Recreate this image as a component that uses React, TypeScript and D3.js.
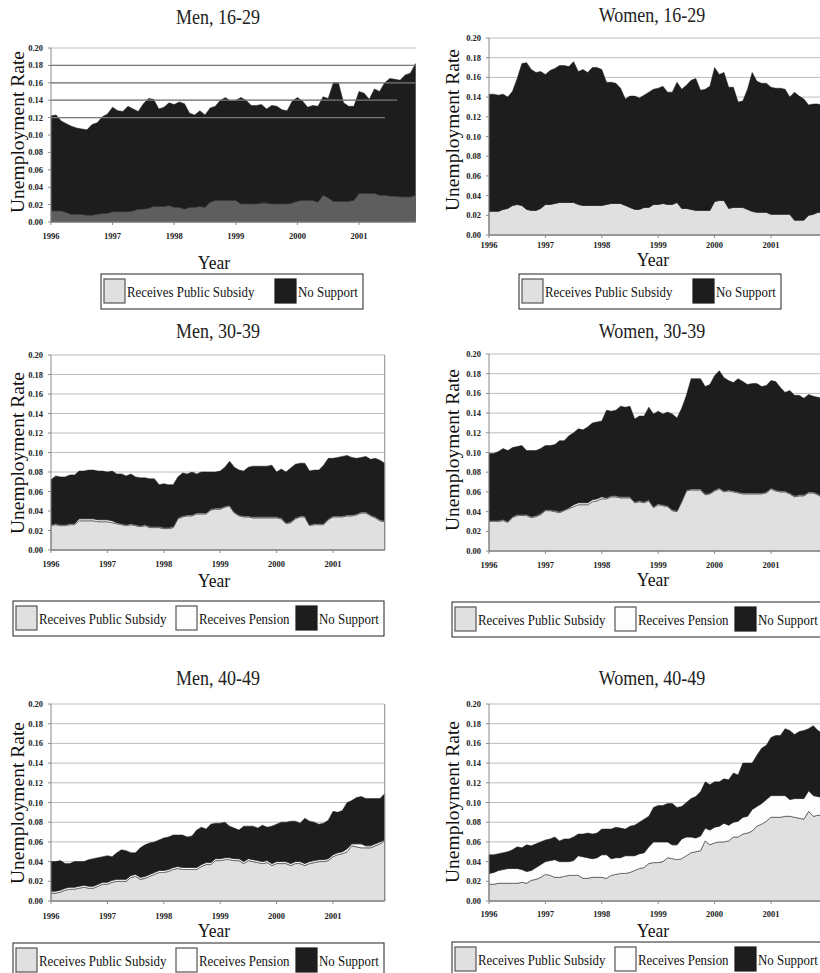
import React from "react";
import * as d3 from "d3";

// monthly observations, Jan 1996 .. Dec 2001
const months = d3.range(72).map((i) => 1996 + i / 12);
const yearTicks = [1996, 1997, 1998, 1999, 2000, 2001];
const rateTicks = [0, 0.02, 0.04, 0.06, 0.08, 0.1, 0.12, 0.14, 0.16, 0.18, 0.2];

const seriesNames = ["Receives Public Subsidy", "Receives Pension", "No Support"];

// Men 16-29
const menYoungSubsidy = [
  0.013, 0.013, 0.013, 0.011, 0.009, 0.009, 0.009, 0.008, 0.008, 0.009, 0.010, 0.010,
  0.012, 0.012, 0.012, 0.012, 0.013, 0.015, 0.015, 0.016, 0.018, 0.018, 0.018, 0.019,
  0.017, 0.017, 0.015, 0.017, 0.017, 0.018, 0.017, 0.023, 0.025, 0.025, 0.025, 0.025,
  0.025, 0.021, 0.021, 0.021, 0.021, 0.022, 0.022, 0.021, 0.021, 0.021, 0.021, 0.022,
  0.024, 0.025, 0.025, 0.025, 0.023, 0.031, 0.028, 0.024, 0.024, 0.024, 0.024, 0.025,
  0.033, 0.033, 0.033, 0.033, 0.031, 0.031, 0.030, 0.030, 0.029, 0.029, 0.029, 0.031,
];
const menYoungTotal = [
  0.122, 0.123, 0.116, 0.113, 0.110, 0.108, 0.107, 0.106, 0.112, 0.114, 0.121, 0.124,
  0.132, 0.128, 0.127, 0.133, 0.130, 0.127, 0.136, 0.142, 0.141, 0.130, 0.132, 0.137,
  0.135, 0.138, 0.136, 0.125, 0.123, 0.128, 0.123, 0.131, 0.133, 0.140, 0.143, 0.139,
  0.140, 0.143, 0.140, 0.134, 0.134, 0.135, 0.130, 0.134, 0.133, 0.129, 0.128, 0.139,
  0.143, 0.139, 0.132, 0.134, 0.133, 0.144, 0.142, 0.160, 0.160, 0.137, 0.133, 0.133,
  0.150, 0.148, 0.141, 0.153, 0.150, 0.160, 0.165, 0.164, 0.163, 0.169, 0.171, 0.182,
];

// Women 16-29
const womenYoungSubsidy = [
  0.024, 0.024, 0.024, 0.026, 0.027, 0.030, 0.031, 0.030, 0.026, 0.025, 0.025, 0.027,
  0.031, 0.031, 0.032, 0.033, 0.033, 0.033, 0.033, 0.031, 0.030, 0.030, 0.030, 0.030,
  0.030, 0.031, 0.032, 0.032, 0.032, 0.030, 0.028, 0.026, 0.026, 0.028, 0.028, 0.031,
  0.031, 0.032, 0.031, 0.031, 0.033, 0.027, 0.027, 0.026, 0.025, 0.025, 0.025, 0.025,
  0.034, 0.035, 0.035, 0.027, 0.028, 0.028, 0.028, 0.026, 0.024, 0.023, 0.023, 0.023,
  0.021, 0.021, 0.021, 0.021, 0.021, 0.015, 0.015, 0.015, 0.020, 0.021, 0.023, 0.023,
];
const womenYoungTotal = [
  0.143, 0.143, 0.142, 0.143, 0.140, 0.146, 0.159, 0.174, 0.175, 0.168, 0.165, 0.166,
  0.163, 0.167, 0.169, 0.172, 0.172, 0.171, 0.176, 0.166, 0.168, 0.165, 0.170, 0.170,
  0.168, 0.155, 0.155, 0.154, 0.149, 0.138, 0.141, 0.141, 0.139, 0.142, 0.145, 0.148,
  0.149, 0.151, 0.145, 0.145, 0.155, 0.148, 0.152, 0.157, 0.159, 0.147, 0.148, 0.151,
  0.170, 0.163, 0.165, 0.150, 0.150, 0.135, 0.136, 0.148, 0.165, 0.156, 0.154, 0.154,
  0.150, 0.149, 0.149, 0.148, 0.140, 0.145, 0.141, 0.138, 0.132, 0.133, 0.133, 0.131,
];

// Men 30-39
const menMidSubsidy = [
  0.025, 0.026, 0.025, 0.025, 0.026, 0.026, 0.030, 0.030, 0.030, 0.030, 0.029, 0.029,
  0.029, 0.028, 0.027, 0.026, 0.025, 0.026, 0.025, 0.024, 0.025, 0.023, 0.023, 0.023,
  0.022, 0.022, 0.023, 0.032, 0.034, 0.035, 0.035, 0.037, 0.037, 0.037, 0.041, 0.042,
  0.042, 0.044, 0.045, 0.038, 0.035, 0.034, 0.034, 0.033, 0.033, 0.033, 0.033, 0.033,
  0.033, 0.032, 0.027, 0.028, 0.032, 0.034, 0.034, 0.025, 0.026, 0.026, 0.026, 0.031,
  0.034, 0.034, 0.034, 0.035, 0.035, 0.036, 0.038, 0.038, 0.035, 0.033, 0.030, 0.029,
];
const menMidPension = [
  0.001, 0.001, 0.001, 0.001, 0.001, 0.001, 0.002, 0.002, 0.002, 0.002, 0.002, 0.002,
  0.002, 0.002, 0.001, 0.001, 0.001, 0.001, 0.001, 0.001, 0.001, 0.001, 0.001, 0.001,
  0.001, 0.001, 0.001, 0.001, 0.001, 0.001, 0.001, 0.001, 0.001, 0.001, 0.001, 0.001,
  0.001, 0.001, 0.001, 0.001, 0.001, 0.001, 0.001, 0.001, 0.001, 0.001, 0.001, 0.001,
  0.001, 0.001, 0.001, 0.001, 0.001, 0.001, 0.001, 0.001, 0.001, 0.001, 0.001, 0.001,
  0.001, 0.001, 0.001, 0.001, 0.001, 0.001, 0.001, 0.001, 0.001, 0.001, 0.001, 0.001,
];
const menMidTotal = [
  0.072, 0.076, 0.075, 0.075, 0.077, 0.077, 0.081, 0.081, 0.082, 0.082, 0.081, 0.081,
  0.080, 0.081, 0.078, 0.078, 0.076, 0.078, 0.075, 0.074, 0.074, 0.073, 0.073, 0.067,
  0.068, 0.067, 0.067, 0.075, 0.079, 0.078, 0.080, 0.078, 0.080, 0.080, 0.080, 0.080,
  0.081, 0.085, 0.091, 0.085, 0.082, 0.081, 0.085, 0.086, 0.086, 0.086, 0.086, 0.087,
  0.080, 0.083, 0.080, 0.084, 0.088, 0.089, 0.089, 0.081, 0.082, 0.082, 0.087, 0.094,
  0.094, 0.095, 0.096, 0.097, 0.095, 0.094, 0.095, 0.096, 0.093, 0.094, 0.092, 0.089,
];

// Women 30-39
const womenMidSubsidy = [
  0.030, 0.030, 0.030, 0.031, 0.029, 0.034, 0.036, 0.036, 0.036, 0.034, 0.035, 0.037,
  0.041, 0.041, 0.040, 0.039, 0.041, 0.043, 0.045, 0.047, 0.047, 0.047, 0.050, 0.051,
  0.053, 0.053, 0.055, 0.055, 0.054, 0.054, 0.054, 0.049, 0.050, 0.049, 0.051, 0.044,
  0.047, 0.046, 0.045, 0.041, 0.040, 0.050, 0.061, 0.062, 0.062, 0.062, 0.057, 0.058,
  0.061, 0.063, 0.060, 0.061, 0.060, 0.059, 0.058, 0.058, 0.058, 0.058, 0.058, 0.059,
  0.063, 0.061, 0.060, 0.060, 0.058, 0.055, 0.056, 0.056, 0.059, 0.059, 0.057, 0.054,
];
const womenMidPension = [
  0.001, 0.001, 0.001, 0.001, 0.001, 0.001, 0.001, 0.001, 0.001, 0.001, 0.001, 0.001,
  0.001, 0.001, 0.001, 0.001, 0.001, 0.001, 0.002, 0.002, 0.002, 0.002, 0.002, 0.002,
  0.002, 0.001, 0.001, 0.001, 0.001, 0.001, 0.001, 0.001, 0.001, 0.001, 0.001, 0.001,
  0.001, 0.001, 0.001, 0.001, 0.001, 0.001, 0.001, 0.001, 0.001, 0.001, 0.001, 0.001,
  0.001, 0.001, 0.001, 0.001, 0.001, 0.001, 0.001, 0.001, 0.001, 0.001, 0.001, 0.001,
  0.001, 0.001, 0.001, 0.001, 0.001, 0.001, 0.001, 0.001, 0.001, 0.001, 0.001, 0.001,
];
const womenMidTotal = [
  0.099, 0.099, 0.101, 0.104, 0.102, 0.105, 0.106, 0.107, 0.102, 0.102, 0.102, 0.104,
  0.107, 0.107, 0.108, 0.112, 0.112, 0.117, 0.120, 0.124, 0.123, 0.126, 0.130, 0.131,
  0.132, 0.143, 0.142, 0.143, 0.147, 0.146, 0.147, 0.134, 0.137, 0.137, 0.146, 0.139,
  0.142, 0.139, 0.141, 0.139, 0.135, 0.145, 0.158, 0.175, 0.175, 0.175, 0.167, 0.169,
  0.178, 0.183, 0.176, 0.173, 0.171, 0.175, 0.172, 0.169, 0.170, 0.170, 0.167, 0.168,
  0.173, 0.172, 0.166, 0.161, 0.163, 0.158, 0.158, 0.155, 0.159, 0.157, 0.156, 0.155,
];

// Men 40-49
const menOldSubsidy = [
  0.008, 0.008, 0.009, 0.011, 0.012, 0.012, 0.013, 0.014, 0.013, 0.013, 0.015, 0.017,
  0.017, 0.019, 0.020, 0.020, 0.020, 0.024, 0.025, 0.022, 0.023, 0.025, 0.027, 0.029,
  0.029, 0.030, 0.032, 0.033, 0.032, 0.032, 0.032, 0.032, 0.035, 0.037, 0.037, 0.041,
  0.041, 0.042, 0.042, 0.041, 0.041, 0.038, 0.041, 0.040, 0.039, 0.038, 0.039, 0.036,
  0.038, 0.038, 0.038, 0.036, 0.038, 0.038, 0.036, 0.038, 0.039, 0.040, 0.040, 0.041,
  0.045, 0.047, 0.048, 0.050, 0.056, 0.055, 0.054, 0.054, 0.054, 0.056, 0.058, 0.061,
];
const menOldPension = [
  0.002, 0.002, 0.002, 0.002, 0.002, 0.002, 0.002, 0.002, 0.002, 0.002, 0.002, 0.002,
  0.002, 0.002, 0.002, 0.002, 0.002, 0.002, 0.002, 0.002, 0.002, 0.002, 0.002, 0.002,
  0.002, 0.002, 0.002, 0.002, 0.002, 0.002, 0.002, 0.002, 0.002, 0.002, 0.002, 0.002,
  0.002, 0.002, 0.002, 0.002, 0.002, 0.002, 0.002, 0.002, 0.002, 0.002, 0.002, 0.002,
  0.002, 0.002, 0.002, 0.002, 0.002, 0.002, 0.002, 0.002, 0.002, 0.002, 0.002, 0.002,
  0.002, 0.002, 0.002, 0.003, 0.002, 0.003, 0.004, 0.002, 0.002, 0.002, 0.002, 0.001,
];
const menOldTotal = [
  0.040, 0.040, 0.041, 0.038, 0.038, 0.040, 0.040, 0.040, 0.042, 0.043, 0.044, 0.045,
  0.046, 0.045, 0.049, 0.052, 0.051, 0.049, 0.049, 0.054, 0.057, 0.059, 0.060, 0.062,
  0.064, 0.065, 0.067, 0.067, 0.067, 0.065, 0.066, 0.072, 0.075, 0.073, 0.078, 0.079,
  0.079, 0.080, 0.076, 0.074, 0.072, 0.076, 0.076, 0.076, 0.074, 0.077, 0.075, 0.076,
  0.078, 0.080, 0.080, 0.081, 0.081, 0.079, 0.084, 0.081, 0.080, 0.078, 0.079, 0.082,
  0.091, 0.090, 0.092, 0.100, 0.102, 0.105, 0.106, 0.104, 0.104, 0.104, 0.104, 0.109,
];

// Women 40-49
const womenOldSubsidy = [
  0.017, 0.017, 0.018, 0.018, 0.018, 0.018, 0.018, 0.019, 0.018, 0.021, 0.022, 0.024,
  0.027, 0.026, 0.024, 0.024, 0.025, 0.026, 0.026, 0.026, 0.023, 0.023, 0.024, 0.024,
  0.024, 0.023, 0.026, 0.027, 0.028, 0.028, 0.029, 0.031, 0.033, 0.034, 0.038, 0.039,
  0.039, 0.040, 0.044, 0.043, 0.042, 0.043, 0.046, 0.049, 0.050, 0.051, 0.061, 0.057,
  0.059, 0.060, 0.060, 0.061, 0.065, 0.065, 0.068, 0.069, 0.071, 0.076, 0.078, 0.081,
  0.085, 0.085, 0.085, 0.086, 0.086, 0.085, 0.084, 0.083, 0.091, 0.086, 0.087, 0.087,
];
const womenOldPension = [
  0.011, 0.012, 0.013, 0.014, 0.015, 0.015, 0.015, 0.013, 0.012, 0.010, 0.012, 0.013,
  0.013, 0.015, 0.018, 0.016, 0.015, 0.014, 0.015, 0.020, 0.022, 0.021, 0.019, 0.020,
  0.023, 0.024, 0.017, 0.017, 0.016, 0.018, 0.017, 0.015, 0.015, 0.015, 0.017, 0.021,
  0.021, 0.020, 0.016, 0.014, 0.015, 0.020, 0.019, 0.016, 0.014, 0.015, 0.013, 0.015,
  0.016, 0.016, 0.019, 0.016, 0.015, 0.016, 0.017, 0.017, 0.022, 0.020, 0.021, 0.022,
  0.022, 0.022, 0.022, 0.021, 0.017, 0.019, 0.020, 0.021, 0.021, 0.021, 0.019, 0.018,
];
const womenOldTotal = [
  0.047, 0.047, 0.048, 0.049, 0.050, 0.052, 0.055, 0.054, 0.057, 0.056, 0.058, 0.060,
  0.062, 0.063, 0.065, 0.061, 0.063, 0.063, 0.065, 0.068, 0.068, 0.069, 0.068, 0.069,
  0.073, 0.073, 0.073, 0.075, 0.074, 0.073, 0.076, 0.077, 0.080, 0.083, 0.086, 0.095,
  0.097, 0.097, 0.099, 0.099, 0.095, 0.096, 0.100, 0.104, 0.106, 0.111, 0.121, 0.118,
  0.121, 0.121, 0.124, 0.123, 0.130, 0.128, 0.140, 0.140, 0.140, 0.148, 0.155, 0.158,
  0.166, 0.168, 0.168, 0.175, 0.173, 0.169, 0.172, 0.173, 0.175, 0.178, 0.173, 0.170,
];

const serif = "'Liberation Serif', 'Times New Roman', serif";
const BLACK = "#1d1d1d";
const LIGHT = "#e0e0e0";

type Layout = {
  x0: number; x2001: number; yTop: number; yBot: number;
  titleX: number; titleY: number; yearsY: number; xTitleX: number; xTitleY: number;
  yLabelX: number; yLabelY: number;
  legend: { x: number; y: number };
  border?: boolean;
};

type PanelProps = {
  title: string;
  subsidy: number[];
  pension?: number[];
  total: number[];
  layout: Layout;
  subsidyFill?: string;
  overlayGrid?: { v: number; end: number }[];
};

function Panel({ title, subsidy, pension, total, layout: L, subsidyFill = LIGHT, overlayGrid }: PanelProps) {
  const x = d3.scaleLinear().domain([1996, 2001]).range([L.x0, L.x2001]);
  const y = d3.scaleLinear().domain([0, 0.2]).range([L.yBot, L.yTop]);
  const xEnd = x(months[months.length - 1]);
  const pen = pension ?? months.map(() => 0);
  const top1 = subsidy;
  const top2 = subsidy.map((v, i) => v + pen[i]);

  const band = (lo: (i: number) => number, hi: (i: number) => number) =>
    d3.area<number>()
      .x((m) => x(m))
      .y0((_, i) => y(lo(i)))
      .y1((_, i) => y(hi(i)))(months) ?? "";

  const subsidyPath = band(() => 0, (i) => top1[i]);
  const pensionPath = band((i) => top1[i], (i) => top2[i]);
  const noSupportPath = band((i) => top2[i], (i) => total[i]);

  const items = pension ? seriesNames : [seriesNames[0], seriesNames[2]];
  const itemOffsets = pension ? [3, 163, 283] : [3, 174];
  const legendW = pension ? 371 : 262;
  const fills: Record<string, string> = {
    "Receives Public Subsidy": LIGHT,
    "Receives Pension": "#fdfdfd",
    "No Support": BLACK,
  };

  return (
    <g>
      <text transform={`translate(${L.titleX},${L.titleY}) scale(0.9,1)`} textAnchor="middle"
        fontFamily={serif} fontSize={20} fill="#222">{title}</text>

      {rateTicks.map((t) => (
        <line key={t} x1={L.x0} x2={xEnd} y1={y(t)} y2={y(t)} stroke="#bdbdbd" strokeWidth={1} />
      ))}

      <path d={subsidyPath} fill={subsidyFill} stroke="#3a3a3a" strokeWidth={0.7} />
      {pension && <path d={pensionPath} fill="#fdfdfd" stroke="#3a3a3a" strokeWidth={0.6} />}
      <path d={noSupportPath} fill={BLACK} stroke={BLACK} strokeWidth={0.5} />

      {overlayGrid && overlayGrid.map((g) => (
        <line key={g.v} x1={L.x0} x2={x(g.end)} y1={y(g.v)} y2={y(g.v)} stroke="#7a7a7a" strokeWidth={1.2} />
      ))}

      {L.border && <line x1={xEnd} x2={xEnd} y1={L.yTop} y2={L.yBot} stroke="#8a8a8a" strokeWidth={1} />}

      <line x1={L.x0} x2={L.x0} y1={L.yTop} y2={L.yBot} stroke="#8a8a8a" strokeWidth={1} />
      <line x1={L.x0} x2={xEnd} y1={L.yBot} y2={L.yBot} stroke="#8a8a8a" strokeWidth={1} />
      {rateTicks.map((t) => (
        <g key={t}>
          <line x1={L.x0 - 3} x2={L.x0} y1={y(t)} y2={y(t)} stroke="#8a8a8a" />
          <text x={L.x0 - 8} y={y(t) + 3} textAnchor="end" fontFamily={serif} fontWeight="bold"
            fontSize={8.5} fill="#222">{t.toFixed(2)}</text>
        </g>
      ))}
      {yearTicks.map((t) => (
        <g key={t}>
          <line x1={x(t)} x2={x(t)} y1={L.yBot} y2={L.yBot + 3} stroke="#8a8a8a" />
          <text x={x(t)} y={L.yearsY} textAnchor="middle" fontFamily={serif} fontWeight="bold"
            fontSize={8.5} fill="#222">{t}</text>
        </g>
      ))}

      <text transform={`translate(${L.xTitleX},${L.xTitleY}) scale(0.9,1)`} textAnchor="middle"
        fontFamily={serif} fontSize={19.5} fill="#111">Year</text>
      <text transform={`translate(${L.yLabelX},${L.yLabelY}) rotate(-90)`} textAnchor="middle"
        dominantBaseline="central" fontFamily={serif} fontSize={19.5} fill="#111">Unemployment Rate</text>

      <rect x={L.legend.x} y={L.legend.y} width={legendW} height={35} fill="#fff" stroke="#222" strokeWidth={1} />
      {items.map((name, i) => {
        const sx = L.legend.x + itemOffsets[i];
        return (
          <g key={name}>
            <rect x={sx} y={L.legend.y + 5} width={21} height={24} fill={fills[name]}
              stroke={name === "No Support" ? BLACK : "#555"} strokeWidth={1.2} />
            <text transform={`translate(${sx + 23},${L.legend.y + 23}) scale(0.86,1)`}
              fontFamily={serif} fontSize={15} fill="#111">{name}</text>
          </g>
        );
      })}
    </g>
  );
}

const left = { x0: 51, x2001: 333, titleX: 218, xTitleX: 214, yLabelX: 17, border: true };
const right = { x0: 489, x2001: 771, titleX: 652, xTitleX: 653, yLabelX: 452 };

export default function App() {
  return (
    <svg width={820} height={973} style={{ position: "absolute", left: 0, top: 0, background: "#fff" }}>
      <Panel title="Men, 16-29" subsidy={menYoungSubsidy} total={menYoungTotal} subsidyFill="#5e5e5e"
        overlayGrid={[{ v: 0.18, end: 2001.92 }, { v: 0.16, end: 2001.92 }, { v: 0.14, end: 2001.62 }, { v: 0.12, end: 2001.42 }]}
        layout={{ ...left, x2001: 359, border: false, yTop: 48, yBot: 222, titleY: 24, yearsY: 239,
          xTitleY: 269, yLabelY: 132, legend: { x: 101, y: 274 } }} />
      <Panel title="Women, 16-29" subsidy={womenYoungSubsidy} total={womenYoungTotal}
        layout={{ ...right, yTop: 38, yBot: 235, titleY: 22, yearsY: 248,
          xTitleY: 266, yLabelY: 130, legend: { x: 519, y: 274 } }} />
      <Panel title="Men, 30-39" subsidy={menMidSubsidy} pension={menMidPension} total={menMidTotal}
        layout={{ ...left, yTop: 355, yBot: 550, titleY: 338, yearsY: 567,
          xTitleY: 587, yLabelY: 453, legend: { x: 13, y: 601 } }} />
      <Panel title="Women, 30-39" subsidy={womenMidSubsidy} pension={womenMidPension} total={womenMidTotal}
        layout={{ ...right, yTop: 354, yBot: 551, titleY: 338, yearsY: 568,
          xTitleY: 586, yLabelY: 450, legend: { x: 452, y: 602 } }} />
      <Panel title="Men, 40-49" subsidy={menOldSubsidy} pension={menOldPension} total={menOldTotal}
        layout={{ ...left, yTop: 704, yBot: 901, titleY: 685, yearsY: 919,
          xTitleY: 937, yLabelY: 803, legend: { x: 13, y: 943 } }} />
      <Panel title="Women, 40-49" subsidy={womenOldSubsidy} pension={womenOldPension} total={womenOldTotal}
        layout={{ ...right, yTop: 704, yBot: 901, titleY: 685, yearsY: 917,
          xTitleY: 937, yLabelY: 802, legend: { x: 452, y: 942 } }} />
    </svg>
  );
}
